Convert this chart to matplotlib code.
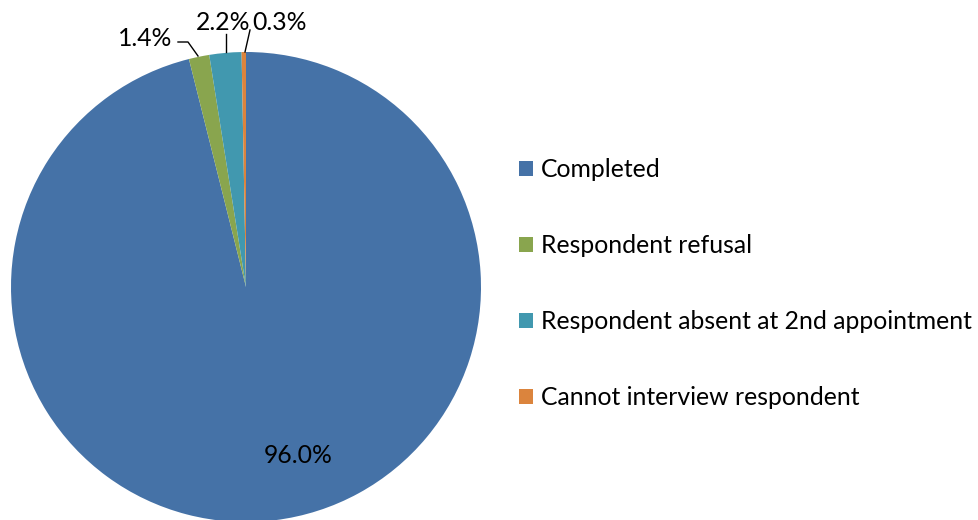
import numpy as np
import matplotlib
matplotlib.use("Agg")
import matplotlib.pyplot as plt

plt.rcParams['font.family'] = ['Lato', 'DejaVu Sans']

# data
categories = ["Completed", "Respondent refusal",
              "Respondent absent at 2nd appointment", "Cannot interview respondent"]
shares = [96.0, 1.4, 2.2, 0.3]
colors = ["#4572A7", "#89A54E", "#4198AF", "#DB843D"]

W, H = 979, 520
fig = plt.figure(figsize=(W / 100, H / 100), dpi=100)

# pie centre at (246, 287) px, radius 235 px
cx, cy, r = 246, 287, 235
ax = fig.add_axes([(cx - r) / W, (H - cy - r) / H, 2 * r / W, 2 * r / H])
wedges, _ = ax.pie(shares, colors=colors, startangle=90, counterclock=False,
                   radius=1, wedgeprops=dict(linewidth=0))
ax.set_xlim(-1, 1)
ax.set_ylim(-1, 1)
ax.set_aspect('auto')
ax.axis('off')

# labels: big slice inside, small slices outside with leader lines
fs = 17.8
ax.text(0.22, -0.715, "96.0%", ha='center', va='center', fontsize=fs)

def pt(px, py):
    return ((px - cx) / r, (cy - py) / r)

lab = [
    (f"{shares[1]:.1f}%", pt(145, 38), [pt(178, 42), pt(188, 42), pt(198, 56)]),
    (f"{shares[2]:.1f}%", pt(223, 23), [pt(226, 34), pt(226, 52)]),
    (f"{shares[3]:.1f}%", pt(280, 23), [pt(250, 30), pt(245, 52)]),
]
for txt, (tx, ty), line in lab:
    ax.text(tx, ty, txt, ha='center', va='center', fontsize=fs, clip_on=False)
    xs, ys = zip(*line)
    ax.plot(xs, ys, color='black', lw=1, clip_on=False)

fig.legend(wedges, categories, loc='upper left',
           bbox_to_anchor=(519 / W, 1 - 158 / H), frameon=False, fontsize=fs,
           handlelength=0.57, handleheight=0.57, handletextpad=0.3,
           labelspacing=2.15, borderaxespad=0, borderpad=0)

fig.savefig("out.png", dpi=100)
